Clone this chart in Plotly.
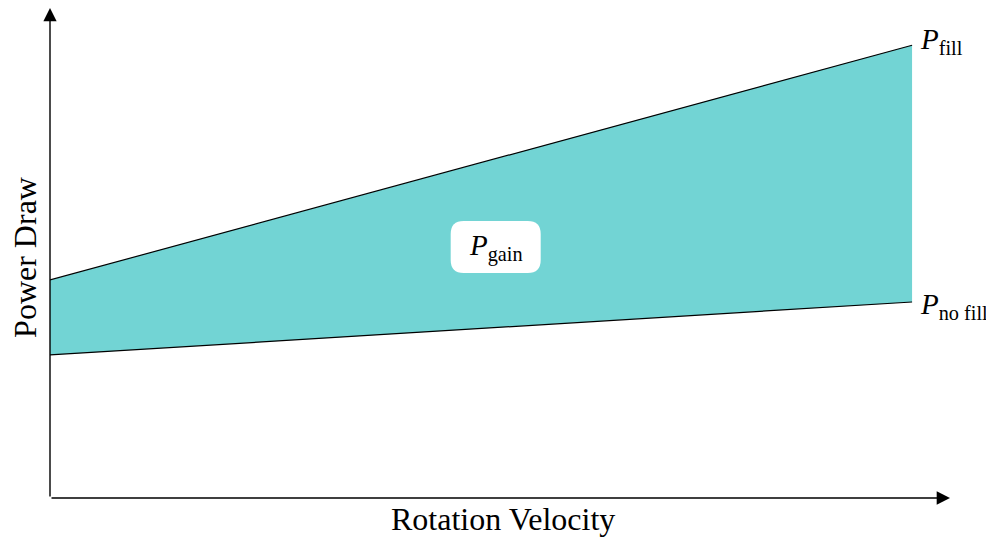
import plotly.graph_objects as go

# Data
velocity = [0, 10]
p_fill = [4.45, 9.24]
p_no_fill = [2.92, 4.0]
x_max = 10.44
y_max = 10.0

FONT = "Liberation Serif"
TEAL = "#72D4D4"

fig = go.Figure()
fig.add_trace(go.Scatter(x=velocity, y=p_no_fill, mode="lines",
                         line=dict(color="black", width=1.2), hoverinfo="skip"))
fig.add_trace(go.Scatter(x=velocity, y=p_fill, mode="lines", fill="tonexty",
                         fillcolor=TEAL, line=dict(color="black", width=1.2),
                         hoverinfo="skip"))

# rounded white box (pixel-sized, anchored at data centre)
cx, cy = 5.17, 5.12
w, h, r = 45, 26, 13
path = (f"M{-w+r},{-h} L{w-r},{-h} Q{w},{-h} {w},{-h+r} L{w},{h-r} Q{w},{h} {w-r},{h} "
        f"L{-w+r},{h} Q{-w},{h} {-w},{h-r} L{-w},{-h+r} Q{-w},{-h} {-w+r},{-h} Z")
fig.add_shape(type="path", xref="x", yref="y", xsizemode="pixel", ysizemode="pixel",
              xanchor=cx, yanchor=cy, path=path, fillcolor="white",
              line=dict(width=0), layer="above")

annos = []
# axes arrows
annos.append(dict(x=0, y=y_max, ax=0, ay=0, xref="x", yref="y", axref="x", ayref="y",
                  showarrow=True, arrowhead=2, arrowsize=1.9, arrowwidth=1.4,
                  arrowcolor="black", text=""))
annos.append(dict(x=x_max, y=0, ax=0, ay=0, xref="x", yref="y", axref="x", ayref="y",
                  showarrow=True, arrowhead=2, arrowsize=1.9, arrowwidth=1.4,
                  arrowcolor="black", text=""))
# labels
annos.append(dict(x=velocity[-1], y=p_fill[-1], xref="x", yref="y", showarrow=False,
                  text="<i>P</i><sub>fill</sub>", xanchor="left", yanchor="middle",
                  xshift=6, yshift=4, font=dict(family=FONT, size=29, color="black")))
annos.append(dict(x=velocity[-1], y=p_no_fill[-1], xref="x", yref="y", showarrow=False,
                  text="<i>P</i><sub>no fill</sub>", xanchor="left", yanchor="middle",
                  xshift=6, yshift=-4, font=dict(family=FONT, size=29, color="black")))
annos.append(dict(x=cx, y=cy, xref="x", yref="y", showarrow=False,
                  text="<i>P</i><sub>gain</sub>", xanchor="center", yanchor="middle",
                  yshift=0, font=dict(family=FONT, size=29, color="black")))
annos.append(dict(x=0.503, y=0, xref="paper", yref="paper", showarrow=False,
                  text="Rotation Velocity", xanchor="center", yanchor="middle",
                  yshift=-21, font=dict(family=FONT, size=32, color="black")))
annos.append(dict(x=0, y=0.49, xref="paper", yref="paper", showarrow=False,
                  text="Power Draw", textangle=-90, xanchor="center", yanchor="middle",
                  xshift=-25, font=dict(family=FONT, size=32, color="black")))

# page body has an 8px margin: shrink figure and margins to compensate
fig.update_layout(
    width=986, height=531,
    margin=dict(l=42, r=44, t=0, b=41),
    paper_bgcolor="white", plot_bgcolor="white",
    showlegend=False,
    xaxis=dict(range=[0, x_max], showgrid=False, zeroline=False, showticklabels=False,
               ticks="", showline=False, fixedrange=True),
    yaxis=dict(range=[0, y_max], showgrid=False, zeroline=False, showticklabels=False,
               ticks="", showline=False, fixedrange=True),
    annotations=annos,
)

fig.write_html("out.html")
